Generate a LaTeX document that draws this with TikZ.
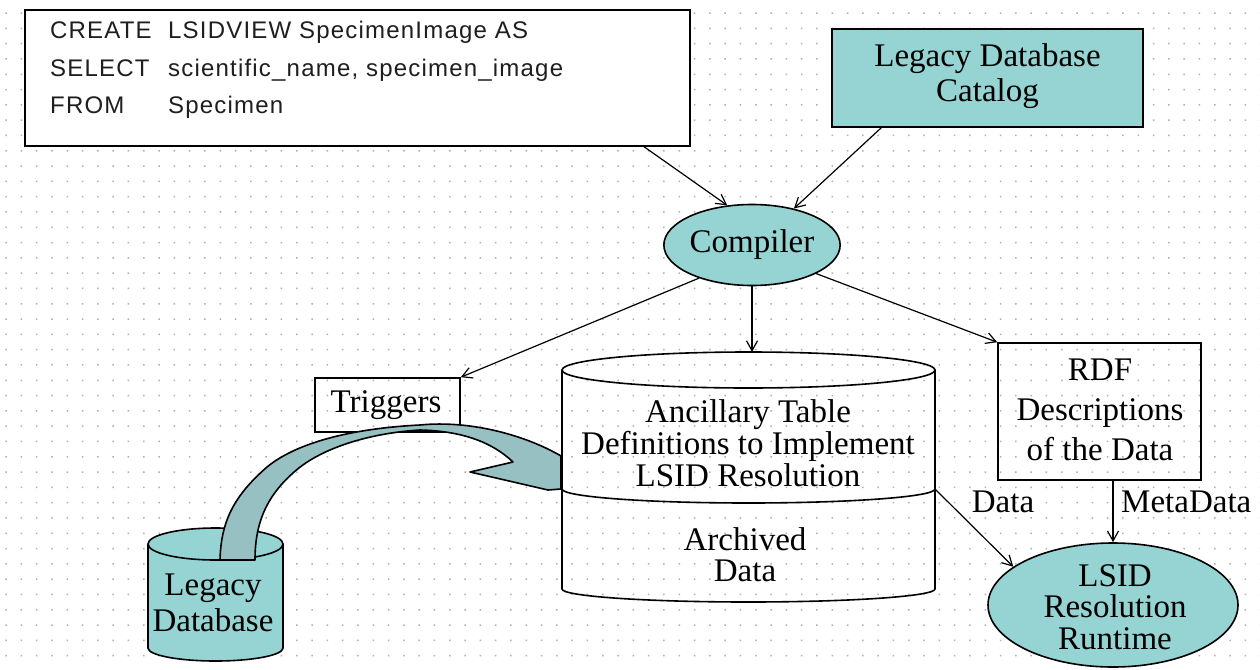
\documentclass[tikz,border=0pt]{standalone}
\usepackage{fontspec}
\setmainfont{Liberation Serif}
\newfontfamily\sqlfont[LetterSpace=5]{Liberation Sans}
\usetikzlibrary{shapes.geometric,arrows.meta,calc}
\definecolor{lsidcyan}{RGB}{150,212,212}
\definecolor{bandcol}{RGB}{150,192,194}
\definecolor{dotgray}{RGB}{175,175,175}
\definecolor{sqltext}{RGB}{30,30,30}
\tikzset{
  border/.style={draw=black, line width=1.6pt},
  serif/.style={font=\fontsize{33}{#1}\selectfont, align=center, inner sep=0pt},
  serif/.default=35,
  sqltxt/.style={font=\sqlfont\fontsize{24}{28}\selectfont, text=sqltext, inner sep=0pt, anchor=base west},
  conn/.style={draw=black, line width=1.2pt, -{Straight Barb[length=10pt,width=11pt,line width=1.2pt]}},
  band/.style={draw=black, line width=1.6pt, fill=bandcol, line join=round},
}
\begin{document}
\begin{tikzpicture}[x=1pt,y=1pt]
\useasboundingbox (0,0) rectangle (1260,-669);
\fill[white] (0,0) rectangle (1260,-669);
% dotted grid background
\fill[dotgray] \foreach \i in {0,...,82}{\foreach \j in {0,...,43}{(5.3+15.3*\i,-12.3-15.3*\j) rectangle ++(1.5,-1.5)}};

% SQL box
\node[border, fill=white, minimum width=665, minimum height=136, inner sep=0pt] (sql) at (357.5,-78) {};
\node[sqltxt] (sqlA) at (50,-39) {CREATE};
\node[sqltxt] (sqlB) at (168,-39) {LSIDVIEW SpecimenImage AS};
\node[sqltxt] (sqlC) at (50,-76) {SELECT};
\node[sqltxt] (sqlD) at (168,-76) {scientific\_name, specimen\_image};
\node[sqltxt] (sqlE) at (50,-113) {FROM};
\node[sqltxt] (sqlF) at (168,-113) {Specimen};

% Legacy Database Catalog
\node[border, fill=lsidcyan, minimum width=311, minimum height=98, inner sep=0pt] (catalog) at (987.5,-78) {};
\node[serif=35] (catalogtxt) at (987.5,-76) {Legacy Database\\Catalog};

% Compiler
\node[border, fill=lsidcyan, ellipse, minimum width=163, minimum height=81, inner sep=0pt, serif] (compiler) at (752,-245) {Compiler};

% Triggers
\node[border, minimum width=145, minimum height=54, inner sep=0pt] (triggers) at (387.5,-405) {};
\node[serif] (triggerstxt) at (386,-405) {Triggers};

% RDF box
\node[border, minimum width=203, minimum height=137, inner sep=0pt] (rdf) at (1099.5,-411.5) {};
\node[serif=40] (rdftxt) at (1100,-410) {RDF\\Descriptions\\of the Data};

% LSID Resolution Runtime
\node[border, fill=lsidcyan, ellipse, minimum width=250, minimum height=124, inner sep=0pt] (lsid) at (1113,-605) {};
\node[serif=31.5] (lsidtxt) at (1115,-607) {LSID\\Resolution\\Runtime};

% Big cylinder
\draw[border] (748.5,-370) ellipse [x radius=186.5, y radius=18];
\draw[border] (562,-370) -- (562,-589) arc[start angle=180, end angle=360, x radius=186.5, y radius=13] -- (935,-370);
\draw[border] (562,-489) arc[start angle=180, end angle=360, x radius=186.5, y radius=14];
\coordinate (cyltop) at (752,-352);
\coordinate (cyldiv) at (935,-489);
\node[serif=32] (ancillary) at (748,-443) {Ancillary Table\\Definitions to Implement\\LSID Resolution};
\node[serif=31] (archived) at (745,-555) {Archived\\Data};

% Legacy Database (small cylinder)
\fill[lsidcyan] (148,-544) -- (148,-648) arc[start angle=180, end angle=360, x radius=67.5, y radius=13] -- (283,-544) arc[start angle=0, end angle=180, x radius=67.5, y radius=16] -- cycle;
\draw[border] (215.5,-544) ellipse [x radius=67.5, y radius=16];
\draw[border] (148,-544) -- (148,-648) arc[start angle=180, end angle=360, x radius=67.5, y radius=13] -- (283,-544);
\node[serif=36] (legacydb) at (213,-603) {Legacy\\Database};

% Big curved arrow from Legacy Database to the cylinder
\draw[band] (220,-560) .. controls (221,-520) and (235,-495) .. (267,-467)
  .. controls (300,-440) and (360,-428) .. (420,-425)
  .. controls (470,-420) and (525,-435) .. (561,-456) -- (561,-489) -- (548,-490)
  -- (470,-472) -- (513,-462) .. controls (492,-442) and (462,-431) .. (420,-430)
  .. controls (370,-433) and (320,-448) .. (293,-473)
  .. controls (265,-498) and (255,-525) .. (255,-560) -- cycle;

% connectors
\draw[conn] ($(sql.south west)!0.93!(sql.south east)$) -- (compiler.122);
\draw[conn] ($(catalog.south west)!0.16!(catalog.south east)$) -- (compiler.41);
\draw[conn] (compiler.212) -- (triggers.north east);
\draw[conn] (compiler.south) -- (cyltop);
\draw[conn] (compiler.-24) -- (rdf.north west);
\draw[conn] (cyldiv) -- (lsid.159);
\draw[conn] (rdf.south -| lsid.north) -- (lsid.north);
\node[serif] (datalbl) at (1003,-502) {Data};
\node[serif, anchor=west] (metalbl) at (1121,-502) {MetaData};
\end{tikzpicture}
\end{document}
